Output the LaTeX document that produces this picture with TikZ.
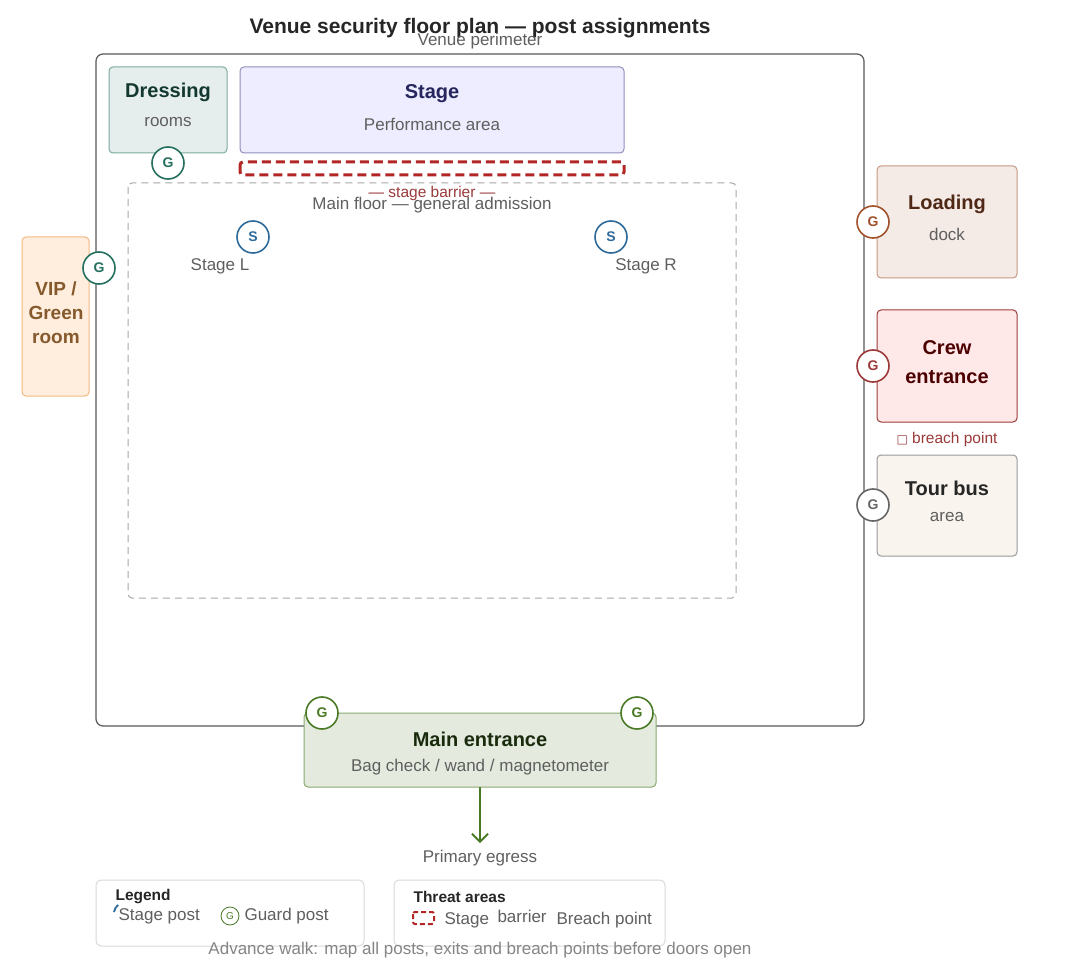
\documentclass[tikz,border=0pt]{standalone}
\usepackage{fontspec}
\usetikzlibrary{arrows.meta}
\setmainfont{Liberation Sans}
\newfontfamily\djv{DejaVu Sans}
\definecolor{sblue}{HTML}{2E6A9A}
\definecolor{gteal}{HTML}{25705F}
\definecolor{lbrown}{HTML}{A0522D}
\definecolor{cred}{HTML}{9C3A3A}
\definecolor{ggreen}{HTML}{4A7A25}
\definecolor{txt}{HTML}{5F5F5F}
\begin{document}
\begin{tikzpicture}[x=1pt,y=-1pt,
 box/.style={draw,rounded corners=4pt,line width=1pt},
 post/.style={circle,draw,line width=1.6pt,fill=white,minimum size=32pt,inner sep=0pt,font=\fontsize{14}{14}\selectfont\bfseries},
 bt/.style={font=\fontsize{20}{23}\selectfont\bfseries,align=center},
 st/.style={font=\fontsize{17}{20}\selectfont,text=txt},
 sm/.style={font=\fontsize{15.5}{18}\selectfont}]
\useasboundingbox (0,0) rectangle (1088,960);
\fill[white] (0,0) rectangle (1088,960);
\node[font=\fontsize{21}{24}\selectfont\bfseries,text=black!85] (title) at (480,28) {Venue security floor plan — post assignments};
\draw[box,draw=black!65,line width=1.2pt,rounded corners=7pt] (96,54) rectangle (864,726);
\node[st] (per) at (480,41) {Venue perimeter};
% dressing
\draw[box,fill=gteal!12,draw=gteal!60] (109,67) rectangle (227,153);
\node[bt,text=gteal!50!black] (dr) at (168,92) {Dressing};
\node[st] (drs) at (168,122) {rooms};
\node[post,draw=gteal,text=gteal] (gd) at (168,163) {G};
% stage
\draw[box,fill=blue!7,draw=blue!25!gray!70] (240,67) rectangle (624,153);
\node[bt,text=blue!25!black!85] (stg) at (432,94) {Stage};
\node[st] (stgs) at (432,124) {Performance area};
\draw[red!65!black!85,line width=3pt,dash pattern=on 9pt off 5pt,rounded corners=3pt] (240,162) rectangle (624,175);
% main floor
\draw[black!35,dash pattern=on 7pt off 5pt,line width=1pt,rounded corners=4pt] (128,183) rectangle (736,598);
\node[sm,text=cred] (sb) at (432,193) {— stage barrier —};
\node[st] (mf) at (432,205) {Main floor — general admission};
\node[post,draw=sblue,text=sblue] (sl) at (253,237) {S};
\node[post,draw=sblue,text=sblue] (sr) at (611,237) {S};
\node[st] (sll) at (220,266) {Stage L};
\node[st] (srl) at (646,266) {Stage R};
% VIP
\draw[box,fill=orange!13,draw=orange!60!brown!55] (22,237) rectangle (89,396);
\node[bt,text=brown!70!black,font=\fontsize{19}{24}\selectfont\bfseries] (vip) at (56,313) {VIP /\\Green\\room};
\node[post,draw=gteal,text=gteal] (gv) at (99,268) {G};
% loading
\draw[box,fill=lbrown!12,draw=lbrown!60] (877,166) rectangle (1017,278);
\node[bt,text=lbrown!50!black] (ld) at (947,204) {Loading};
\node[st] (lds) at (947,234) {dock};
\node[post,draw=lbrown,text=lbrown] (gl) at (873,222) {G};
% crew
\draw[box,fill=red!9,draw=cred] (877,310) rectangle (1017,422);
\node[bt,text=red!30!black,font=\fontsize{20}{29}\selectfont\bfseries] (cr) at (947,362) {Crew\\entrance};
\node[post,draw=cred,text=cred] (gc) at (873,366) {G};
\node[sm,text=cred] (bp) at (947,439) {{\djv\fontsize{12}{12}\selectfont □} breach point};
% tour bus
\draw[box,fill=brown!9!white,draw=black!40] (877,455) rectangle (1017,556);
\node[bt,text=black!85] (tb) at (947,488) {Tour bus};
\node[st] (tbs) at (947,517) {area};
\node[post,draw=black!60,text=black!60] (gt) at (873,505) {G};
% main entrance
\draw[box,fill=ggreen!15,draw=ggreen!65] (304,713) rectangle (656,787);
\node[bt,text=ggreen!35!black] (me) at (480,739) {Main entrance};
\node[st] (mes) at (480,767) {Bag check / wand / magnetometer};
\node[post,draw=ggreen,text=ggreen] (gm1) at (322,713) {G};
\node[post,draw=ggreen,text=ggreen] (gm2) at (637,713) {G};
\coordinate (ma) at (480,787);
\coordinate (mb) at (480,843);
\draw[ggreen,line width=1.8pt,-{Straight Barb[length=8pt]}] (ma) -- (mb);
\node[st] (eg) at (480,858) {Primary egress};
% legend
\draw[black!15,line width=1pt,rounded corners=5pt] (96,880) rectangle (364,946);
\node[font=\fontsize{15.5}{18}\selectfont\bfseries,text=black!85,anchor=west] (lg) at (112,897) {Legend};
\draw[sblue,line width=1.8pt] (114,912) arc (190:230:12);
\node[st,anchor=west] (lsp) at (115,916) {Stage post};
\node[circle,draw=ggreen,line width=0.8pt,minimum size=18pt,inner sep=0pt,font=\fontsize{10}{10}\selectfont,text=ggreen] (lgp) at (230,916) {G};
\node[st,anchor=west] (lgt) at (241,916) {Guard post};
\draw[black!15,line width=1pt,rounded corners=5pt] (394,880) rectangle (665,946);
\node[font=\fontsize{15.5}{18}\selectfont\bfseries,text=black!85,anchor=west] (ta) at (410,897) {Threat areas};
\draw[red!65!black!85,line width=2pt,dash pattern=on 5pt off 3pt,rounded corners=2pt] (413,912) rectangle (434,924);
\node[st,anchor=west] (tsb) at (441,920) {Stage};
\node[st,anchor=west] (tbr) at (494,916) {barrier};
\node[st,anchor=west] (tbp) at (553,920) {Breach point};
\node[st,text=black!48] (ft) at (480,950) {Advance walk: map all posts, exits and breach points before doors open};
\end{tikzpicture}
\end{document}
